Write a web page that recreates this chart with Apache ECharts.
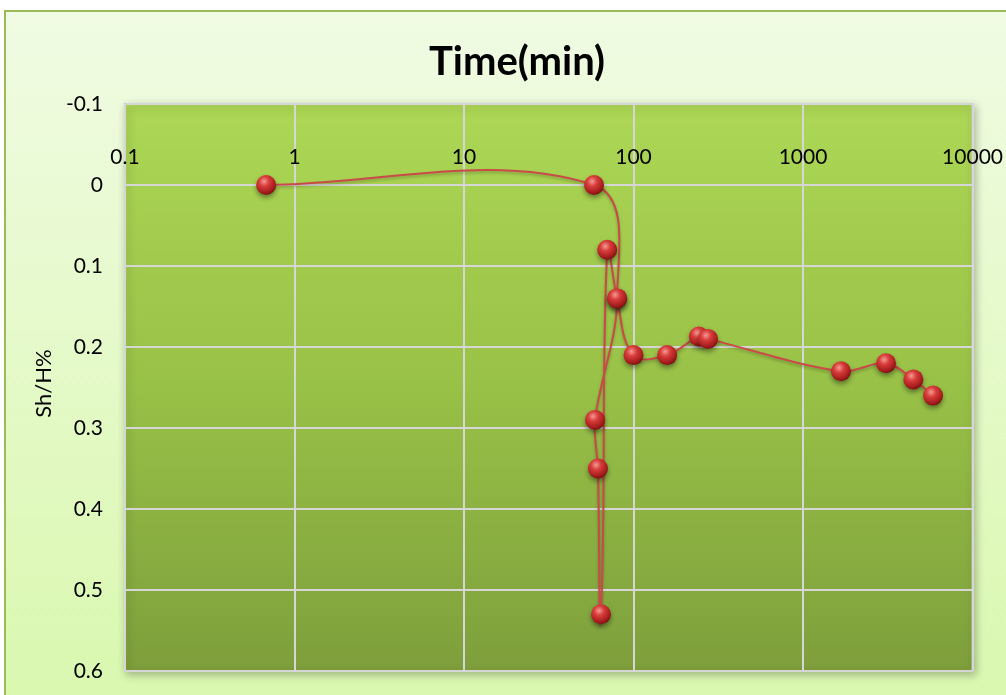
<!DOCTYPE html>
<html>
<head>
<meta charset="utf-8">
<script src="https://cdn.jsdelivr.net/npm/echarts@6/dist/echarts.min.js"></script>
<style>
html,body{margin:0;padding:0;background:#ffffff;}
#chart{width:1006px;height:695px;}
</style>
</head>
<body>
<div id="chart"></div>
<script>
// Data (in plotting order)
const timeMin = [0.68, 58.5, 80, 59.3, 61.7, 64.3, 70, 80, 100, 158, 243, 275, 1675, 3090, 4475, 5846];
const shH = [0, 0, 0.14, 0.29, 0.35, 0.53, 0.08, 0.14, 0.21, 0.21, 0.187, 0.19, 0.23, 0.22, 0.24, 0.26];
const xTicks = [0.1, 1, 10, 100, 1000, 10000];
const yTicks = [-0.1, 0, 0.1, 0.2, 0.3, 0.4, 0.5, 0.6];

const points = timeMin.map((t, i) => [t, shH[i]]);
const font = 'Lato, "Open Sans", "Liberation Sans", sans-serif';

// Smoothed path (Excel-like spline) built from pixel positions given by the axes
function renderCurve(params, api) {
  const P = points.map(p => api.coord(p));
  const n = P.length;
  const dist = (a, b) => Math.hypot(b[0] - a[0], b[1] - a[1]);
  const tangent = i => {
    const a = P[Math.max(0, i - 1)], b = P[Math.min(n - 1, i + 1)];
    const d = dist(a, b) || 1;
    return [(b[0] - a[0]) / d, (b[1] - a[1]) / d];
  };
  let d = 'M' + P[0][0] + ' ' + P[0][1];
  for (let i = 0; i < n - 1; i++) {
    const a = P[i], b = P[i + 1];
    const L = dist(a, b) / 3;
    const ta = tangent(i), tb = tangent(i + 1);
    const c1 = [a[0] + ta[0] * L, a[1] + ta[1] * L];
    const c2 = [b[0] - tb[0] * L, b[1] - tb[1] * L];
    d += ' C' + c1[0] + ' ' + c1[1] + ' ' + c2[0] + ' ' + c2[1] + ' ' + b[0] + ' ' + b[1];
  }
  return {
    type: 'path',
    shape: {pathData: d},
    style: {fill: null, stroke: '#c94a48', lineWidth: 2,
            shadowBlur: 3, shadowColor: 'rgba(0,0,0,0.25)', shadowOffsetY: 2}
  };
}

const chart = echarts.init(document.getElementById('chart'), null, {renderer: 'canvas'});
chart.setOption({
  backgroundColor: 'transparent',
  animation: false,
  graphic: [{
    type: 'rect',
    z: -100,
    silent: true,
    shape: {x: 5, y: 11, width: 1010, height: 700},
    style: {
      fill: new echarts.graphic.LinearGradient(0, 0, 0, 1, [
        {offset: 0, color: '#f0fbe3'},
        {offset: 1, color: '#d9f8ae'}
      ]),
      stroke: '#9bbb59',
      lineWidth: 2
    }
  }],
  title: {
    text: 'Time(min)',
    left: 512,
    top: 37,
    textAlign: 'center',
    textStyle: {fontFamily: font, fontWeight: 'bold', fontSize: 40, color: '#000'}
  },
  grid: {
    left: 125, top: 104, width: 848, height: 567,
    show: true,
    backgroundColor: new echarts.graphic.LinearGradient(0, 0, 0, 1, [
      {offset: 0, color: '#add755'},
      {offset: 0.5, color: '#98c147'},
      {offset: 1, color: '#7e9f3c'}
    ]),
    borderColor: '#c9c9c9',
    borderWidth: 2,
    shadowBlur: 8,
    shadowColor: 'rgba(0,0,0,0.25)',
    shadowOffsetX: 2,
    shadowOffsetY: 3
  },
  xAxis: {
    type: 'log',
    logBase: 10,
    min: xTicks[0],
    max: xTicks[xTicks.length - 1],
    position: 'top',
    offset: -81,
    axisLine: {show: true, onZero: false, lineStyle: {color: '#d6d6d6', width: 2}},
    axisTick: {show: false},
    axisLabel: {
      fontFamily: font, fontSize: 21, color: '#000', margin: 17,
      formatter: v => {
        const found = xTicks.find(t => Math.abs(t - v) / t < 1e-6);
        return found !== undefined ? String(found) : '';
      }
    },
    splitLine: {show: true, lineStyle: {color: '#d6d6d6', width: 2}}
  },
  yAxis: {
    type: 'value',
    inverse: true,
    min: yTicks[0],
    max: yTicks[yTicks.length - 1],
    interval: 0.1,
    name: 'Sh/H%',
    nameLocation: 'middle',
    nameRotate: 90,
    nameGap: 70,
    nameTextStyle: {fontFamily: font, fontSize: 22, color: '#000', padding: [0, 0, 0, 8]},
    axisLine: {show: false, onZero: false},
    axisTick: {show: false},
    axisLabel: {
      fontFamily: font, fontSize: 21, color: '#000', margin: 22,
      formatter: v => {
        const r = Math.round(v * 10) / 10;
        return r === 0 ? '0' : String(r);
      }
    },
    splitLine: {show: true, lineStyle: {color: '#d6d6d6', width: 2}}
  },
  series: [{
    type: 'custom',
    data: [points[0]],
    renderItem: renderCurve,
    z: 4,
    silent: true
  }, {
    type: 'scatter',
    data: points,
    symbol: 'circle',
    symbolSize: 20,
    itemStyle: {
      color: new echarts.graphic.RadialGradient(0.4, 0.32, 0.7, [
        {offset: 0, color: '#f59a94'},
        {offset: 0.35, color: '#d83e3b'},
        {offset: 0.8, color: '#a51c1c'},
        {offset: 1, color: '#7a1212'}
      ]),
      opacity: 1,
      borderWidth: 0,
      shadowBlur: 5,
      shadowColor: 'rgba(0,0,0,0.4)',
      shadowOffsetY: 3
    },
    z: 5
  }]
});
</script>
</body>
</html>
